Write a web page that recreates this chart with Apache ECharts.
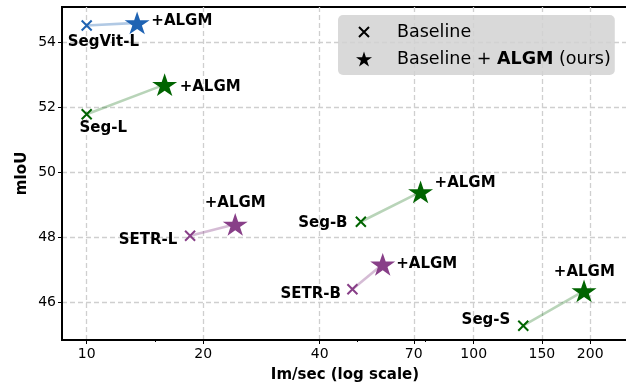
<!DOCTYPE html>
<html>
<head>
<meta charset="utf-8">
<script src="https://cdn.jsdelivr.net/npm/echarts@6/dist/echarts.min.js"></script>
<style>
html,body{margin:0;padding:0;background:#fff;}
#chart{width:626px;height:383px;}
</style>
</head>
<body>
<div id="chart"></div>
<script>
// ---- data ----
const models = ['SegVit-L', 'Seg-L', 'SETR-L', 'Seg-B', 'SETR-B', 'Seg-S'];
const baseSpeed = [10.0, 10.0, 18.5, 51.1, 48.6, 134.3];
const baseMiou = [54.52, 51.79, 48.05, 48.48, 46.40, 45.28];
const algmSpeed = [13.5, 15.9, 24.2, 72.9, 58.2, 192.8];
const algmMiou = [54.60, 52.70, 48.40, 49.40, 47.17, 46.35];
const algmLabel = '+ALGM';
const xTicks = [10, 20, 40, 70, 100, 150, 200];
const xMinorTicks = [15, 50, 75];
const yTicks = [46, 48, 50, 52, 54];
const legendNames = ['Baseline', 'Baseline + ALGM (ours)'];

// ---- style / layout ----
const family = ['#1f63b3', '#006400', '#883f88', '#006400', '#883f88', '#006400'];
const lineFamily = ['rgba(31,99,179,0.35)', 'rgba(0,100,0,0.28)', 'rgba(136,63,136,0.35)',
                    'rgba(0,100,0,0.28)', 'rgba(136,63,136,0.35)', 'rgba(0,100,0,0.28)'];
const baseLabelOffset = [[16.7, 16.4], [16.5, 14.3], [-42, 4.3], [-38, 1], [-41.8, 5], [-37.3, -5.7]];
const algmLabelOffset = [[44.7, -2.3], [45.5, 2.7], [0, -21.6], [44.5, -9], [44, -0.3], [0.3, -18.7]];

const FONT = 'DejaVu Sans';
const L = v => Math.log10(v);
const xMin = 0.9362, xMax = 2.3987;
const yMin = 44.84, yMax = 55.09;

const STAR = 'path://M100,0 L122.45,69.1 L195.11,69.1 L136.33,111.8 L158.78,180.9 L100,138.2 L41.22,180.9 L63.67,111.8 L4.89,69.1 L77.55,69.1 Z';
const STAR_LEG = 'path://M4.89,-4.5 M432.5,185.4 M100,0 L122.45,69.1 L195.11,69.1 L136.33,111.8 L158.78,180.9 L100,138.2 L41.22,180.9 L63.67,111.8 L4.89,69.1 L77.55,69.1 Z';
const CROSS = 'path://M0,0L10,10M10,0L0,10';
const CROSS_LEG = 'path://M-3,-3M33,13M0,0L10,10M10,0L0,10';

const series = [];
models.forEach((m, i) => {
  series.push({
    type: 'line',
    data: [[L(baseSpeed[i]), baseMiou[i]], [L(algmSpeed[i]), algmMiou[i]]],
    symbol: 'none',
    lineStyle: { color: lineFamily[i], width: 2.6 },
    silent: true, z: 2, animation: false
  });
  series.push({
    type: 'scatter',
    name: m,
    data: [[L(baseSpeed[i]), baseMiou[i]]],
    symbol: CROSS, symbolSize: 10, symbolKeepAspect: true,
    itemStyle: { color: 'rgba(0,0,0,0)', borderColor: family[i], borderWidth: 2, opacity: 1 },
    label: {
      show: true, position: 'inside', formatter: m, offset: baseLabelOffset[i],
      fontFamily: FONT, fontWeight: 'bold', fontSize: 15, color: '#000', opacity: 1
    },
    z: 3, animation: false
  });
  series.push({
    type: 'scatter',
    name: m + algmLabel,
    data: [[L(algmSpeed[i]), algmMiou[i]]],
    symbol: STAR, symbolSize: [25, 24], symbolKeepAspect: true,
    itemStyle: { color: family[i], opacity: 1 },
    label: {
      show: true, position: 'inside', formatter: algmLabel, offset: algmLabelOffset[i],
      fontFamily: FONT, fontWeight: 'bold', fontSize: 15, color: '#000', opacity: 1
    },
    z: 4, animation: false
  });
});
// legend-only series
series.push({
  type: 'scatter', name: legendNames[0], data: [],
  symbol: CROSS_LEG,
  itemStyle: { color: 'rgba(0,0,0,0)', borderColor: '#000', borderWidth: 2, opacity: 1 }
});
series.push({
  type: 'scatter', name: legendNames[1], data: [],
  symbol: STAR_LEG, itemStyle: { color: '#000', opacity: 1 }
});

const chart = echarts.init(document.getElementById('chart'), null, { renderer: 'canvas' });
chart.setOption({
  animation: false,
  textStyle: { fontFamily: FONT },
  grid: {
    left: 62, top: 7, right: -2, bottom: 43,
    containLabel: false, outerBoundsMode: 'none',
    show: true, borderColor: '#000', borderWidth: 2, backgroundColor: 'rgba(0,0,0,0)'
  },
  legend: {
    data: [
      { name: legendNames[0], icon: CROSS_LEG },
      { name: legendNames[1], icon: STAR_LEG }
    ],
    orient: 'vertical',
    left: 338, top: 15,
    padding: [7, 4, 6, 17],
    itemWidth: 36, itemHeight: 16, itemGap: 7,
    backgroundColor: 'rgba(210,210,210,0.85)',
    borderRadius: 5,
    selectedMode: false,
    formatter: n => n === legendNames[1] ? 'Baseline + {b|ALGM} (ours)' : n,
    textStyle: {
      fontFamily: FONT, fontSize: 17.5, color: '#000', lineHeight: 20,
      rich: { b: { fontFamily: FONT, fontSize: 17.5, fontWeight: 'bold', color: '#000', lineHeight: 20 } }
    }
  },
  xAxis: [{
    type: 'value', min: xMin, max: xMax,
    name: 'Im/sec (log scale)', nameLocation: 'middle', nameGap: 28,
    nameTextStyle: { fontFamily: FONT, fontSize: 15, fontWeight: 'bold', color: '#000' },
    axisLine: { show: true, lineStyle: { color: '#000', width: 2 } },
    axisTick: { show: true, length: 4, customValues: xTicks.map(L), lineStyle: { color: '#000', width: 1 } },
    axisLabel: {
      customValues: xTicks.map(L), margin: 7,
      formatter: v => String(Math.round(Math.pow(10, v))),
      fontFamily: FONT, fontSize: 14, color: '#000'
    },
    splitLine: { show: true, lineStyle: { color: '#cfcfcf', width: 1.3, type: [5, 3] } }
  }, {
    type: 'value', min: xMin, max: xMax, position: 'bottom',
    axisLine: { show: false },
    axisTick: { show: true, length: 2, customValues: xMinorTicks.map(L), lineStyle: { color: '#000', width: 1 } },
    axisLabel: { show: false },
    splitLine: { show: false }
  }],
  yAxis: {
    type: 'value', min: yMin, max: yMax,
    name: 'mIoU', nameLocation: 'middle', nameGap: 32, nameMoveOverlap: false,
    nameTextStyle: { fontFamily: FONT, fontSize: 15, fontWeight: 'bold', color: '#000' },
    axisLine: { show: true, lineStyle: { color: '#000', width: 2 } },
    axisTick: { show: true, length: 4, customValues: yTicks, lineStyle: { color: '#000', width: 1 } },
    axisLabel: {
      customValues: yTicks, margin: 6,
      fontFamily: FONT, fontSize: 14, color: '#000'
    },
    splitLine: { show: true, lineStyle: { color: '#cfcfcf', width: 1.3, type: [5, 3] } }
  },
  series: series
});
</script>
</body>
</html>
